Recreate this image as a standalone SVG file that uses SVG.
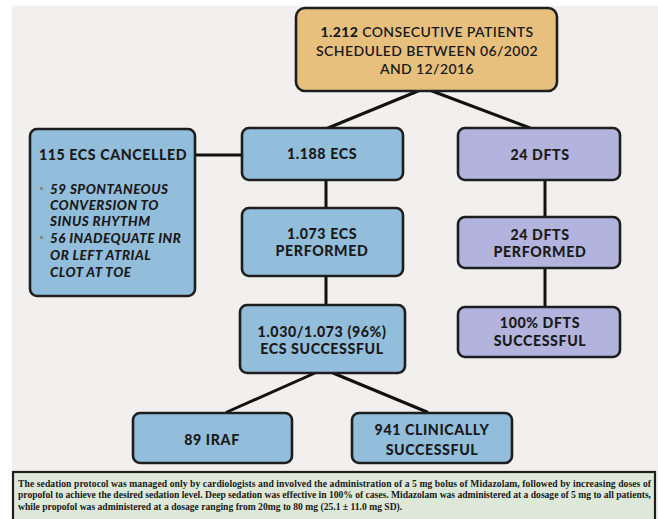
<svg xmlns="http://www.w3.org/2000/svg" width="658" height="519" viewBox="0 0 658 519">
<defs>
<style>
.box{stroke:#1e1e1e;stroke-width:2.6;}
.blue{fill:#93bedb;}
.purple{fill:#b3b4dd;}
.tan{fill:#e8c07e;}
.t{font-family:Lato,"Open Sans","Liberation Sans",sans-serif;font-weight:900;font-size:14.2px;fill:#1a1a1a;text-anchor:middle;letter-spacing:0.6px;}
.tt{font-family:Lato,"Open Sans","Liberation Sans",sans-serif;font-weight:600;font-size:14px;fill:#1a1a1a;text-anchor:middle;letter-spacing:0.4px;}
.b{font-weight:900;}
.it{font-family:Lato,"Open Sans","Liberation Sans",sans-serif;font-weight:900;font-style:italic;font-size:13.4px;fill:#1a1a1a;letter-spacing:0.5px;}
.conn line{stroke:#111;stroke-width:3;stroke-linecap:round;}
.note{font-family:"Liberation Serif","Times New Roman",serif;font-weight:bold;font-size:9.6px;fill:#1a1a1a;}
</style>
</defs>
<rect x="0" y="0" width="658" height="519" fill="#ffffff"/>
<rect x="12" y="6" width="646" height="513" fill="#f1f0ee"/>

<g id="connectors" class="conn">
<line x1="418" y1="91" x2="328" y2="128"/>
<line x1="432" y1="91" x2="530" y2="128"/>
<line x1="195" y1="155" x2="242" y2="155"/>
<line x1="326" y1="180" x2="326" y2="208"/>
<line x1="326" y1="276" x2="326" y2="305"/>
<line x1="545" y1="180" x2="545" y2="217"/>
<line x1="545" y1="268" x2="545" y2="307"/>
<line x1="315" y1="373" x2="227" y2="412"/>
<line x1="333" y1="373" x2="427" y2="412"/>
</g>

<g id="n-total">
<rect class="box tan" x="296" y="8" width="261" height="83" rx="9"/>
<text class="tt" x="427" y="37"><tspan class="b">1.212</tspan> CONSECUTIVE PATIENTS</text>
<text class="tt" x="427" y="56">SCHEDULED BETWEEN 06/2002</text>
<text class="tt" x="427" y="74">AND 12/2016</text>
</g>

<g id="n-cancelled">
<rect class="box blue" x="30" y="129" width="165" height="167" rx="7"/>
<text class="t" x="113" y="160">115 ECS CANCELLED</text>
<rect x="40" y="187" width="3" height="3" fill="#8a8a8a"/>
<rect x="40" y="236" width="3" height="3" fill="#8a8a8a"/>
<text class="it" x="50" y="194">59 SPONTANEOUS</text>
<text class="it" x="50" y="210">CONVERSION TO</text>
<text class="it" x="50" y="226">SINUS RHYTHM</text>
<text class="it" x="50" y="243">56 INADEQUATE INR</text>
<text class="it" x="50" y="260">OR LEFT ATRIAL</text>
<text class="it" x="50" y="277">CLOT AT TOE</text>
</g>

<g id="n-ecs">
<rect class="box blue" x="242" y="128" width="161" height="52" rx="7"/>
<text class="t" x="322" y="159">1.188 ECS</text>
</g>

<g id="n-ecs-performed">
<rect class="box blue" x="242" y="208" width="161" height="68" rx="7"/>
<text class="t" x="322" y="239">1.073 ECS</text>
<text class="t" x="322" y="256">PERFORMED</text>
</g>

<g id="n-ecs-success">
<rect class="box blue" x="240" y="305" width="165" height="68" rx="7"/>
<text class="t" x="322" y="337">1.030/1.073 (96%)</text>
<text class="t" x="322" y="354">ECS SUCCESSFUL</text>
</g>

<g id="n-iraf">
<rect class="box blue" x="133" y="413" width="159" height="50" rx="7"/>
<text class="t" x="212" y="445">89 IRAF</text>
</g>

<g id="n-clinical">
<rect class="box blue" x="352" y="413" width="160" height="50" rx="7"/>
<text class="t" x="432" y="435">941 CLINICALLY</text>
<text class="t" x="432" y="455">SUCCESSFUL</text>
</g>

<g id="n-dfts">
<rect class="box purple" x="458" y="128" width="162" height="52" rx="7"/>
<text class="t" x="540" y="160">24 DFTS</text>
</g>

<g id="n-dfts-performed">
<rect class="box purple" x="458" y="217" width="162" height="51" rx="7"/>
<text class="t" x="540" y="240">24 DFTS</text>
<text class="t" x="540" y="257">PERFORMED</text>
</g>

<g id="n-dfts-success">
<rect class="box purple" x="458" y="307" width="162" height="50" rx="7"/>
<text class="t" x="540" y="328">100% DFTS</text>
<text class="t" x="540" y="346">SUCCESSFUL</text>
</g>

<g id="n-note">
<rect x="13" y="472" width="642" height="52" fill="#dde8d8" stroke="#1e1e1e" stroke-width="2.2"/>
<text class="note" x="18" y="487" textLength="633" lengthAdjust="spacing">The sedation protocol was managed only by cardiologists and involved the administration of a 5 mg bolus of Midazolam, followed by increasing doses of</text>
<text class="note" x="18" y="498" textLength="633" lengthAdjust="spacing">propofol to achieve the desired sedation level. Deep sedation was effective in 100% of cases. Midazolam was administered at a dosage of 5 mg to all patients,</text>
<text class="note" x="18" y="510">while propofol was administered at a dosage ranging from 20mg to 80 mg (25.1 ± 11.0 mg SD).</text>
</g>
</svg>
